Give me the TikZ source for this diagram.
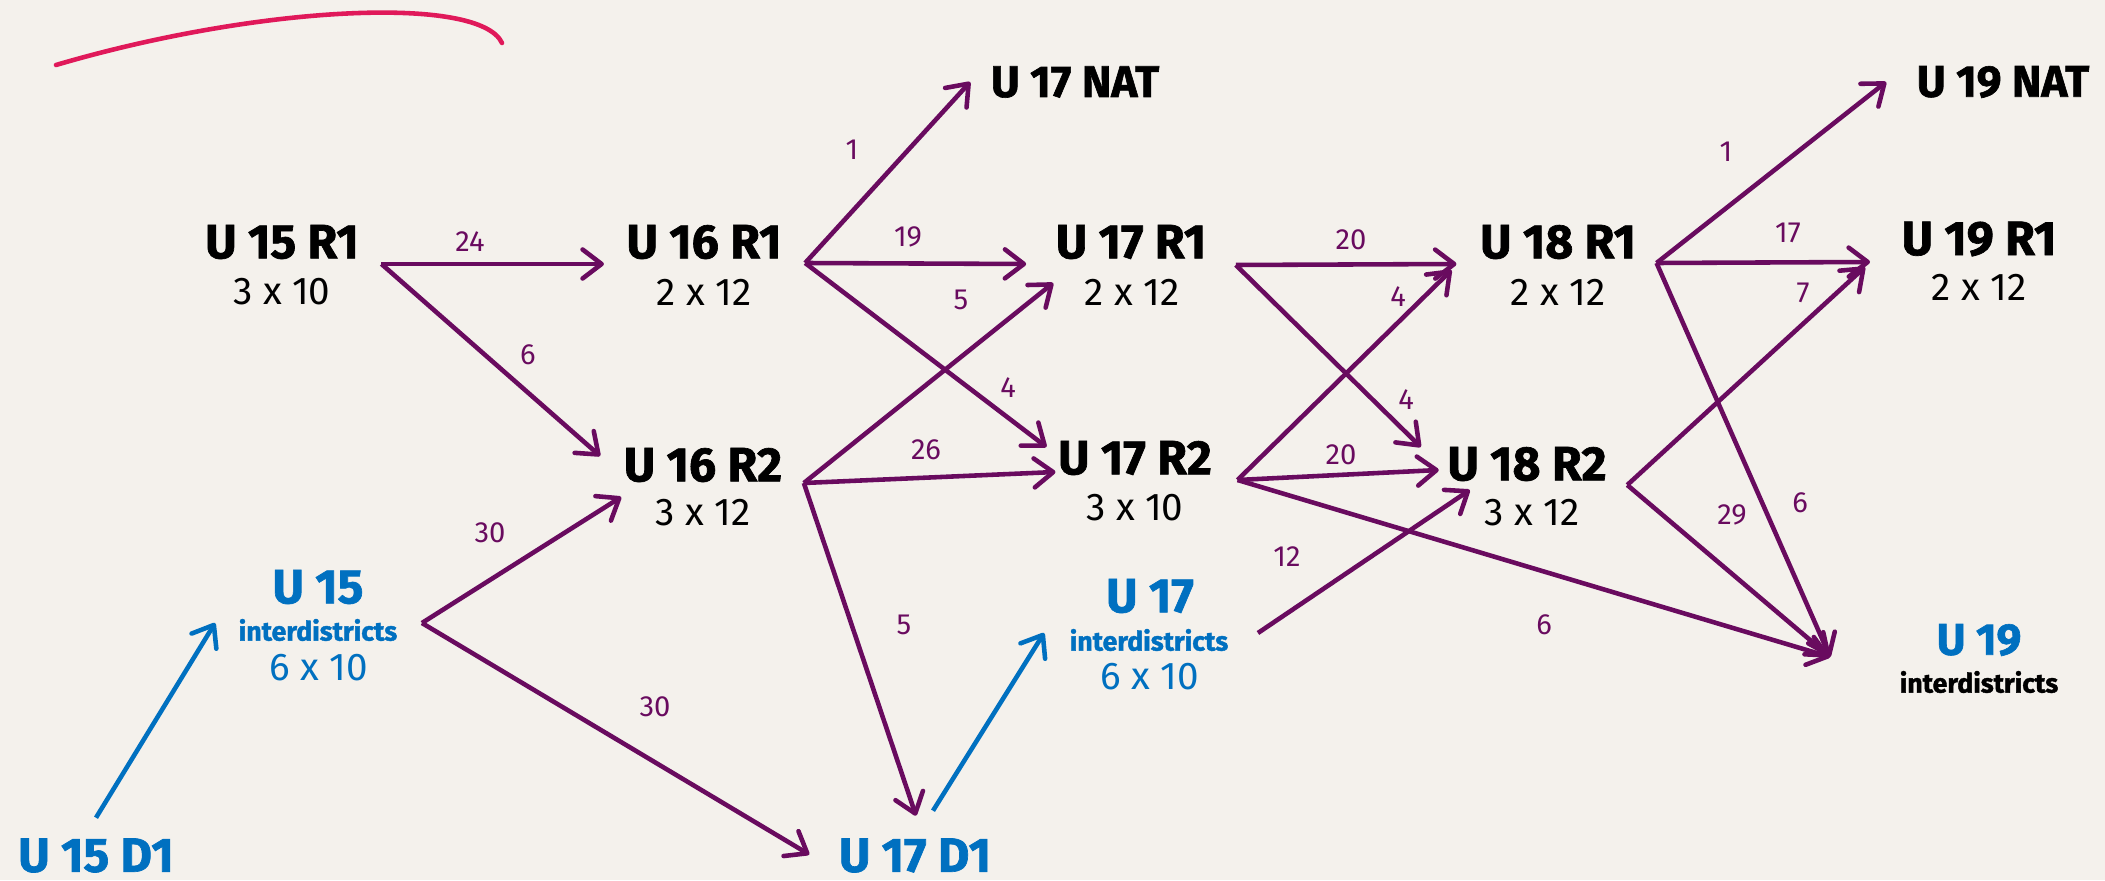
\documentclass[tikz,border=0pt]{standalone}
\usepackage{fontspec}
\setmainfont{Fira Sans}
\newfontfamily\unitfont{Fira Sans}[BoldFeatures={FakeBold=1.4}]
\usetikzlibrary{arrows.meta}
\definecolor{paper}{HTML}{F4F1EC}
\definecolor{flowpurple}{HTML}{690B5F}
\definecolor{dblue}{HTML}{0070C0}
\definecolor{markred}{HTML}{E0195A}

\begin{document}
\begin{tikzpicture}[
  unit/.style={inner sep=0pt, font=\unitfont\fontsize{13.7}{16}\selectfont\bfseries},
  nat/.style={unit, font=\unitfont\fontsize{12.6}{15}\selectfont\bfseries},
  size/.style={inner sep=0pt, font=\fontsize{11}{13}\selectfont},
  inter/.style={inner sep=0pt, font=\unitfont\fontsize{7.6}{9}\selectfont\bfseries},
  count/.style={inner sep=0pt, text=flowpurple, font=\fontsize{8.3}{10}\selectfont},
  flow/.style={draw=flowpurple, line width=1.3pt, -{Straight Barb[length=1.9mm,width=2.9mm,round]}},
  feed/.style={flow, draw=dblue},
]
    \fill[paper] (0,0) rectangle (21.05,8.80);
    \useasboundingbox (0,0) rectangle (21.05,8.80);

    \draw[markred, line width=1.3pt, line cap=round] (0.56,8.15) .. controls (2.6,8.75) and (4.8,8.85) .. (5.02,8.37);

    % first teams
    \node[unit] (u15r1) at (2.82,6.38) {U 15 R1};
    \node[size] (u15r1s) at (2.82,5.88) {3 x 10};
    \node[unit] (u16r1) at (7.04,6.38) {U 16 R1};
    \node[size] (u16r1s) at (7.04,5.88) {2 x 12};
    \node[unit] (u17r1) at (11.31,6.38) {U 17 R1};
    \node[size] (u17r1s) at (11.32,5.88) {2 x 12};
    \node[unit] (u18r1) at (15.58,6.38) {U 18 R1};
    \node[size] (u18r1s) at (15.58,5.88) {2 x 12};
    \node[unit] (u19r1) at (19.79,6.41) {U 19 R1};
    \node[size] (u19r1s) at (19.79,5.93) {2 x 12};
    \node[nat] (u17nat) at (10.75,7.98) {U 17 NAT};
    \node[nat] (u19nat) at (20.03,7.98) {U 19 NAT};

    % second teams
    \node[unit] (u16r2) at (7.03,4.15) {U 16 R2};
    \node[size] (u16r2s) at (7.03,3.67) {3 x 12};
    \node[unit] (u17r2) at (11.35,4.22) {U 17 R2};
    \node[size] (u17r2s) at (11.35,3.72) {3 x 10};
    \node[unit] (u18r2) at (15.27,4.16) {U 18 R2};
    \node[size] (u18r2s) at (15.32,3.67) {3 x 12};

    % interdistricts
    \node[unit, text=dblue] (u15i) at (3.18,2.93) {U 15};
    \node[inter, text=dblue] (u15ii) at (3.18,2.50) {interdistricts};
    \node[size, text=dblue] (u15is) at (3.19,2.12) {6 x 10};
    \node[unit, text=dblue] (u17i) at (11.50,2.84) {U 17};
    \node[inter, text=dblue] (u17ii) at (11.49,2.40) {interdistricts};
    \node[size, text=dblue] (u17is) at (11.50,2.03) {6 x 10};
    \node[nat, text=dblue] (u19i) at (19.79,2.40) {U 19};
    \node[inter] (u19ii) at (19.79,1.98) {interdistricts};

    \node[unit, text=dblue] (u15d1) at (0.96,0.245) {U 15 D1};
    \node[unit, text=dblue] (u17d1) at (9.15,0.245) {U 17 D1};

    % flows
    \draw[flow] ([shift={(0.22,-0.22)}]u15r1.east) -- ([shift={(-0.22,-0.22)}]u16r1.west);
    \draw[flow] ([shift={(0.22,-0.22)}]u15r1.east) -- ([shift={(-0.23,0.09)}]u16r2.west);
    \draw[flow] ([shift={(0.23,-0.21)}]u16r1.east) -- ([shift={(-0.20,0)}]u17nat.west);
    \draw[flow] ([shift={(0.23,-0.21)}]u16r1.east) -- ([shift={(-0.29,-0.22)}]u17r1.west);
    \draw[flow] ([shift={(0.23,-0.21)}]u16r1.east) -- ([shift={(-0.11,0.11)}]u17r2.west);
    \draw[flow] ([shift={(0.21,-0.18)}]u16r2.east) -- ([shift={(-0.02,-0.41)}]u17r1.west);
    \draw[flow] ([shift={(0.21,-0.18)}]u16r2.east) -- ([shift={(-0.02,-0.14)}]u17r2.west);
    \draw[flow] ([shift={(0.21,-0.18)}]u16r2.east) -- ([shift={(0.01,0.22)}]u17d1.north);
    \draw[flow] ([shift={(0.24,0.07)}]u15ii.east) -- ([shift={(-0.02,-0.32)}]u16r2.west);
    \draw[flow] ([shift={(0.24,0.07)}]u15ii.east) -- ([shift={(-0.29,0.01)}]u17d1.west);
    \draw[feed] ([shift={(0,0.2)}]u15d1.north) -- ([shift={(-0.23,0.07)}]u15ii.west);
    \draw[feed] ([shift={(0.18,0.27)}]u17d1.north) -- ([shift={(-0.25,0.07)}]u17ii.west);
    \draw[flow] ([shift={(0.29,-0.23)}]u17r1.east) -- ([shift={(-0.23,-0.22)}]u18r1.west);
    \draw[flow] ([shift={(0.29,-0.23)}]u17r1.east) -- ([shift={(-0.26,0.17)}]u18r2.west);
    \draw[flow] ([shift={(0.25,-0.22)}]u17r2.east) -- ([shift={(-0.28,-0.28)}]u18r1.west);
    \draw[flow] ([shift={(0.25,-0.22)}]u17r2.east) -- ([shift={(-0.08,-0.06)}]u18r2.west);
    \draw[flow] ([shift={(0.25,-0.22)}]u17r2.east) -- ([shift={(-0.69,0.25)}]u19ii.west);
    \draw[flow] ([shift={(0.29,0.07)}]u17ii.east) -- ([shift={(0.23,-0.26)}]u18r2.west);
    \draw[flow] ([shift={(0.20,-0.21)}]u18r1.east) -- ([shift={(-0.30,0)}]u19nat.west);
    \draw[flow] ([shift={(0.20,-0.21)}]u18r1.east) -- ([shift={(-0.31,-0.23)}]u19r1.west);
    \draw[flow] ([shift={(0.20,-0.21)}]u18r1.east) -- ([shift={(-0.69,0.25)}]u19ii.west);
    \draw[flow] ([shift={(0.20,-0.21)}]u18r2.east) -- ([shift={(-0.36,-0.28)}]u19r1.west);
    \draw[flow] ([shift={(0.20,-0.21)}]u18r2.east) -- ([shift={(-0.69,0.25)}]u19ii.west);

    % counts
    \node[count] (n24) at (4.70,6.38) {24};
    \node[count] (n6a) at (5.28,5.25) {6};
    \node[count] (n1a) at (8.52,7.30) {1};
    \node[count] (n19) at (9.08,6.43) {19};
    \node[count] (n4a) at (10.08,4.92) {4};
    \node[count] (n5a) at (9.61,5.80) {5};
    \node[count] (n26) at (9.26,4.30) {26};
    \node[count] (n5b) at (9.04,2.55) {5};
    \node[count] (n30a) at (4.90,3.47) {30};
    \node[count] (n30b) at (6.55,1.73) {30};
    \node[count] (n20a) at (13.51,6.40) {20};
    \node[count] (n4b) at (14.06,4.80) {4};
    \node[count] (n4c) at (13.98,5.83) {4};
    \node[count] (n20b) at (13.41,4.25) {20};
    \node[count] (n6b) at (15.44,2.55) {6};
    \node[count] (n12) at (12.87,3.23) {12};
    \node[count] (n1b) at (17.26,7.28) {1};
    \node[count] (n17) at (17.88,6.47) {17};
    \node[count] (n6c) at (18.00,3.77) {6};
    \node[count] (n7) at (18.03,5.87) {7};
    \node[count] (n29) at (17.32,3.65) {29};
\end{tikzpicture}
\end{document}
